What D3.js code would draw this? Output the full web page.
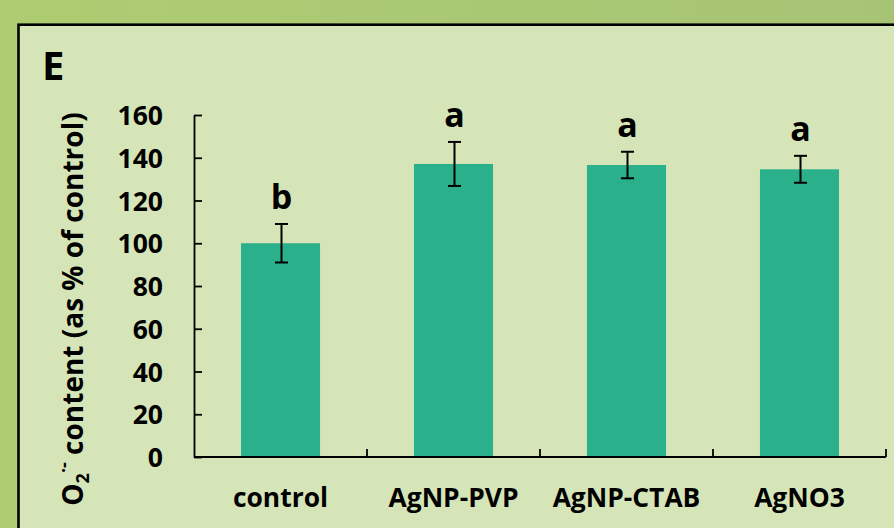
<!DOCTYPE html>
<html>
<head>
<meta charset="utf-8">
<script src="https://cdn.jsdelivr.net/npm/d3@7"></script>
<style>
html,body{margin:0;padding:0;background:#a8c674;}
svg{display:block;}
text{font-family:"Open Sans","Noto Sans",sans-serif;font-weight:bold;fill:#000;}
</style>
</head>
<body>
<svg id="chart" width="894" height="528"></svg>
<script>
const categories = ["control", "AgNP-PVP", "AgNP-CTAB", "AgNO3"];
const means = [100, 137.1, 136.6, 134.6];
const errors = [9, 10.3, 6.2, 6.3];
const letters = ["b", "a", "a", "a"];
const yTicks = [0, 20, 40, 60, 80, 100, 120, 140, 160];
const panelLabel = "E";

const W = 894, H = 528;
const svg = d3.select("#chart");

// background
const defs = svg.append("defs");
const g1 = defs.append("linearGradient").attr("id","bg").attr("x1","0").attr("y1","0").attr("x2","1").attr("y2","0");
g1.append("stop").attr("offset","0").attr("stop-color","#aecd72");
g1.append("stop").attr("offset","1").attr("stop-color","#a6c474");
svg.append("rect").attr("width",W).attr("height",H).attr("fill","url(#bg)");

// panel
svg.append("rect").attr("x",18.5).attr("y",24.7).attr("width",W).attr("height",H)
  .attr("fill","#d6e5b7").attr("stroke","#000").attr("stroke-width",2.6);

const x0 = 194, x1 = 886, yTop = 115, yBot = 457;
const y = d3.scaleLinear().domain([0,160]).range([yBot, yTop]);
const x = d3.scaleBand().domain(categories).range([x0, x1]).paddingInner(0.543).paddingOuter(0.2715);
const xb = d3.scaleBand().domain(categories).range([x0, x1]).padding(0);

// bars
svg.append("g").selectAll("rect").data(categories).join("rect")
  .attr("x", d => x(d)).attr("width", x.bandwidth())
  .attr("y", (d,i) => y(means[i])).attr("height", (d,i) => y(0) - y(means[i]))
  .attr("fill", "#2bb08c");

// error bars
const eb = svg.append("g").attr("stroke","#000").attr("stroke-width",2);
categories.forEach((c,i) => {
  const cx = Math.round(x(c) + x.bandwidth()/2) + 0.5;
  const hi = y(means[i] + errors[i]), lo = y(means[i] - errors[i]);
  eb.append("line").attr("x1",cx).attr("x2",cx).attr("y1",hi).attr("y2",lo);
  eb.append("line").attr("x1",cx-6.5).attr("x2",cx+6.5).attr("y1",hi).attr("y2",hi);
  eb.append("line").attr("x1",cx-6.5).attr("x2",cx+6.5).attr("y1",lo).attr("y2",lo);
  svg.append("text").attr("x", cx).attr("y", hi - 15).attr("text-anchor","middle")
    .attr("font-size", 34).text(letters[i]);
});

// y axis
const yAxis = d3.axisLeft(y).tickValues(yTicks).tickSize(-8).tickSizeOuter(0).tickPadding(31);
const ga = svg.append("g").attr("transform", `translate(${x0},0)`).call(yAxis);
ga.select(".domain").attr("stroke","#000").attr("stroke-width",1.8);
ga.selectAll(".tick line").attr("stroke","#000").attr("stroke-width",1.8);
ga.selectAll(".tick text").attr("font-size",26.5).attr("font-family",null).attr("fill","#000").attr("dy","0.36em");

// x axis
const gx = svg.append("g");
gx.append("line").attr("x1",x0).attr("x2",x1).attr("y1",yBot).attr("y2",yBot).attr("stroke","#000").attr("stroke-width",1.8);
gx.selectAll("line.t").data(categories).join("line").attr("class","t")
  .attr("x1", d => xb(d) + xb.bandwidth()).attr("x2", d => xb(d) + xb.bandwidth())
  .attr("y1", yBot).attr("y2", yBot - 8).attr("stroke","#000").attr("stroke-width",1.8);
gx.selectAll("text").data(categories).join("text")
  .attr("x", d => xb(d) + xb.bandwidth()/2).attr("y", 507)
  .attr("text-anchor","middle").attr("font-size",26.4).text(d => d);

// y title
const yt = svg.append("text").attr("transform","translate(83,309) rotate(-90)")
  .attr("text-anchor","middle").attr("font-size",28);
yt.append("tspan").text("O");
yt.append("tspan").attr("font-size",18).attr("dy",6).text("2");
yt.append("tspan").attr("font-size",18).attr("dy",-19).text("·-");
yt.append("tspan").attr("dy",13).text(" content (as % of control)");

// panel label
svg.append("text").attr("x",42).attr("y",79.5).attr("font-size",40).text(panelLabel);
</script>
</body>
</html>
